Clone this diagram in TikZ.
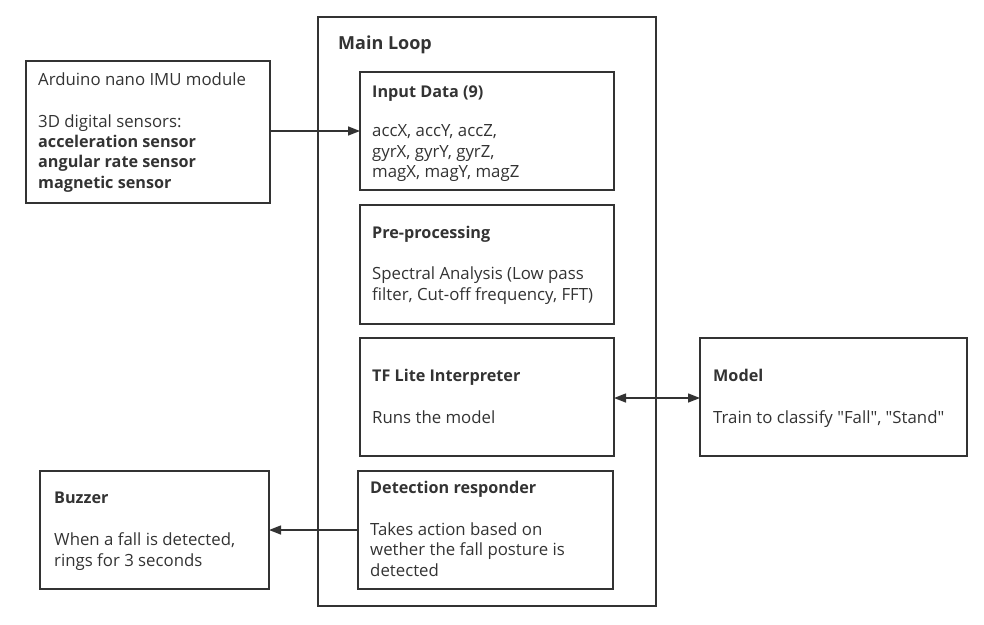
\documentclass[tikz,border=0pt]{standalone}
\usepackage{fontspec}
\setmainfont{Open Sans}[Ligatures=TeXOff]
\usetikzlibrary{arrows.meta}
\definecolor{ink}{HTML}{333333}
\tikzset{
  box/.style={draw=ink, line width=1.4pt},
  ln/.style={anchor=base west, inner sep=0pt, text=ink, font=\fontsize{16.8}{20}\selectfont},
  hd/.style={ln, font=\fontsize{16.2}{20}\selectfont\bfseries},
  conn/.style={draw=ink, line width=1.4pt, -{Triangle[length=12pt,width=9pt]}},
}
\begin{document}
\begin{tikzpicture}[x=1pt,y=-1pt]
\useasboundingbox (0,0) rectangle (984,624);
% main loop
\draw[box] (318,17) rectangle (656,606);
\node[ln, font=\fontsize{18}{22}\selectfont\bfseries] (mlt) at (338,49) {Main Loop};
% arduino
\draw[box] (26,61) rectangle (270,203);
\coordinate (ardE) at (270,131);
\node[ln] (a1) at (38,85) {Arduino nano IMU module};
\node[ln] (a2) at (38,127) {3D digital sensors:};
\node[hd] (a3) at (38,147) {acceleration sensor};
\node[hd] (a4) at (38,167) {angular rate sensor};
\node[hd] (a5) at (38,188) {magnetic sensor};
% input data
\draw[box] (360,72) rectangle (614,190);
\coordinate (inW) at (360,131);
\node[hd] (i0) at (372,97) {Input Data (9)};
\node[ln] (i1) at (372,136) {accX, accY, accZ,};
\node[ln] (i2) at (372,157) {gyrX, gyrY, gyrZ,};
\node[ln] (i3) at (372,177) {magX, magY, magZ};
% pre-processing
\draw[box] (360,205) rectangle (614,324);
\node[hd] (p0) at (372,238) {Pre-processing};
\node[ln] (p1) at (372,279) {Spectral Analysis (Low pass};
\node[ln] (p2) at (372,300) {filter, Cut-off frequency, FFT)};
% tf lite
\draw[box] (360,338) rectangle (614,456);
\coordinate (tfE) at (614,398);
\node[hd] (t0) at (372,381) {TF Lite Interpreter};
\node[ln] (t1) at (372,423) {Runs the model};
% detection
\draw[box] (358,471) rectangle (613,589);
\coordinate (dtW) at (358,530);
\node[hd] (d0) at (370,493) {Detection responder};
\node[ln] (d1) at (370,535) {Takes action based on};
\node[ln] (d2) at (370,555) {wether the fall posture is};
\node[ln] (d3) at (370,576) {detected};
% buzzer
\draw[box] (40,471) rectangle (269,589);
\coordinate (bzE) at (269,530);
\node[hd] (b0) at (54,503) {Buzzer};
\node[ln] (b1) at (54,545) {When a fall is detected,};
\node[ln] (b2) at (54,566) {rings for 3 seconds};
% model
\draw[box] (700,338) rectangle (967,456);
\coordinate (mdW) at (700,398);
\node[hd] (m0) at (713,381) {Model};
\node[ln] (m1) at (713,423) {Train to classify "Fall", "Stand"};
% connectors
\draw[conn] (ardE) -- (inW);
\draw[draw=ink, line width=1.4pt, {Triangle[length=12pt,width=9pt]}-{Triangle[length=12pt,width=9pt]}] (tfE) -- (mdW);
\draw[conn] (dtW) -- (bzE);
\end{tikzpicture}
\end{document}
